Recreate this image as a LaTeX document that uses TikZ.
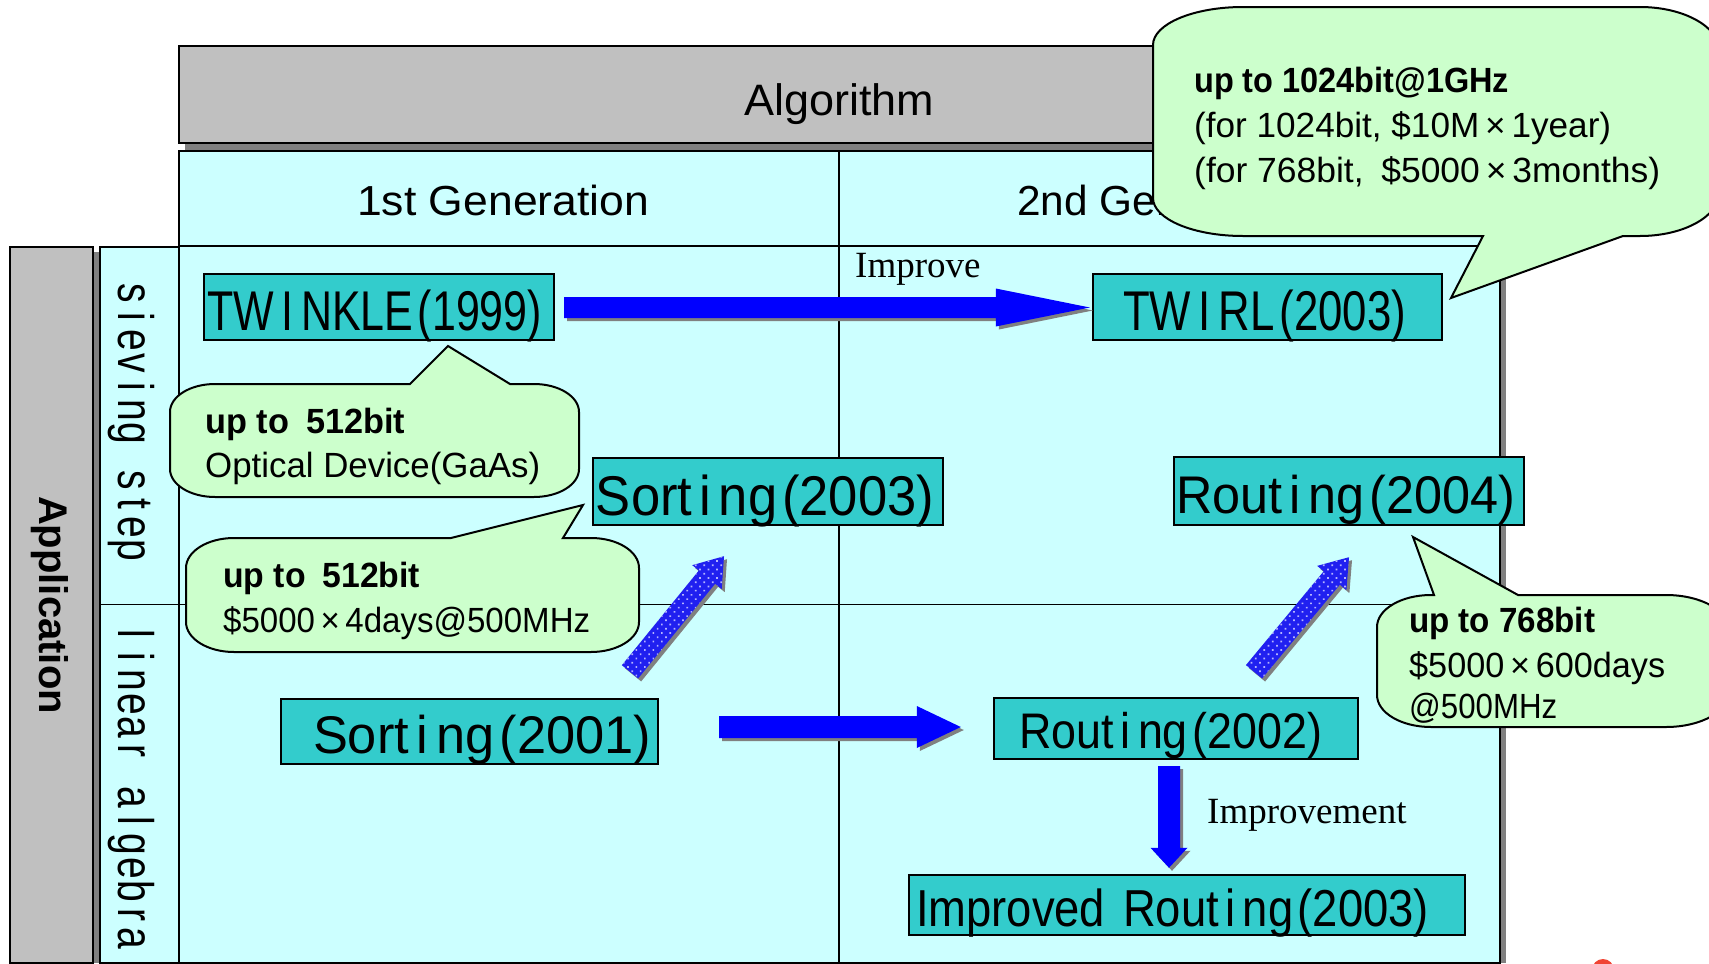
\documentclass[tikz,border=0pt]{standalone}
\usepackage{fontspec}
\usepackage{graphicx}
\setmainfont{Liberation Sans}
\newfontfamily\timesfont{Liberation Serif}
\usetikzlibrary{calc,patterns.meta,shadows}

\definecolor{hdrgray}{HTML}{C0C0C0}
\definecolor{shadegray}{HTML}{808080}
\definecolor{cellcyan}{HTML}{CCFFFF}
\definecolor{boxteal}{HTML}{33CCCC}
\definecolor{notegreen}{HTML}{CCFFCC}
\definecolor{dotblue}{HTML}{B4B4FF}
\definecolor{hatchblue}{HTML}{2020F0}
\definecolor{markred}{HTML}{F04535}

% text squeezed or stretched to a given width (in pt), natural height kept
\newcommand\fitw[2]{\resizebox{#1pt}{\height}{#2}}
\newcommand\fsz[1]{\fontsize{#1pt}{#1pt}\selectfont}
% fixed-pitch cell for the vertical row titles
\newcommand\pitchcell[1]{\makebox[23.4pt][c]{\scalebox{0.78}[1]{#1}}}
% block arrow: style, tail, tip, shaft half-width, head half-width, head length
\newcommand\blockarrow[6]{%
  \coordinate (ba-base) at ($(#3)!#6!(#2)$);
  \fill[#1] ($(#2)!#4!90:(#3)$) -- ($(ba-base)!#4!90:(#3)$) -- ($(ba-base)!#5!90:(#3)$)
    -- (#3) -- ($(ba-base)!#5!-90:(#3)$) -- ($(ba-base)!#4!-90:(#3)$)
    -- ($(#2)!#4!-90:(#3)$) -- cycle;}

\begin{document}
\begin{tikzpicture}[x=1pt, y=-1pt,
  txt/.style={inner sep=0pt, anchor=base west},
  tealbox/.style={draw=black, line width=2.4pt, fill=boxteal, inner sep=0pt, text depth=0pt},
  callout/.style={draw=black, line width=2pt, fill=notegreen},
  gridline/.style={line width=1.8pt},
  arrowshadow/.style={drop shadow={shadow xshift=3pt, shadow yshift=-3pt, fill=shadegray, opacity=1}},
  blockblue/.style={fill=blue, arrowshadow},
  blockhatch/.style={fill=hatchblue, arrowshadow,
    postaction={pattern={Dots[distance=6pt, radius=1.2pt, angle=45]}, pattern color=dotblue}},
]
\useasboundingbox (0,0) rectangle (1709,964);

% ---- column title bar
\fill[shadegray] (185,52) rectangle (1506,150);
\draw[line width=2pt, fill=hdrgray] (179,46) rectangle (1500,143);
\node[txt] (alg) at (744,115) {\fsz{44}\fitw{190}{Algorithm}};

% ---- table body
\fill[shadegray] (1500,157) rectangle (1505.5,963);
\draw[gridline, fill=cellcyan] (179,151) rectangle (1500,963);
\draw[gridline] (179,246) -- (1500,246);
\draw[gridline] (839,151) -- (839,963);

% ---- row title bars
\fill[shadegray] (93,252) rectangle (99,963);
\draw[gridline, fill=hdrgray] (10,247) rectangle (93,963);
\draw[gridline, fill=cellcyan] (100,247) rectangle (179,963);
\draw[gridline] (100,604.5) -- (1500,604.5);

\node[txt] (gen1) at (357,215) {\fsz{42}\fitw{292}{1st Generation}};
\node[txt] (gen2) at (1017,215) {\fsz{42}\fitw{292}{2nd Generation}};

\node[inner sep=0pt, rotate=-90, anchor=base] (app) at (39,605) {\fsz{40}\bfseries Application};
\node[inner sep=0pt, rotate=-90, anchor=base] (rowsieve) at (118,422)
  {\fsz{50}\pitchcell{s}\pitchcell{i}\pitchcell{e}\pitchcell{v}\pitchcell{i}\pitchcell{n}\pitchcell{g}%
   \pitchcell{}\pitchcell{s}\pitchcell{t}\pitchcell{e}\pitchcell{p}};
\node[inner sep=0pt, rotate=-90, anchor=base] (rowlin) at (118,786)
  {\fsz{50}\pitchcell{l}\pitchcell{i}\pitchcell{n}\pitchcell{e}\pitchcell{a}\pitchcell{r}\pitchcell{}%
   \pitchcell{a}\pitchcell{l}\pitchcell{g}\pitchcell{e}\pitchcell{b}\pitchcell{r}\pitchcell{a}};

% ---- devices
\node[tealbox, minimum width=350pt, minimum height=66pt, text height=46pt] (twinkle) at (379,307)
  {\fsz{56}\fitw{335}{TW\kern10pt I\kern10pt NKLE\kern6pt(1999)}\hspace*{9pt}};
\node[tealbox, minimum width=349pt, minimum height=66pt, text height=46pt] (twirl) at (1267.5,307)
  {\fsz{56}\fitw{283}{TW\kern10pt I\kern10pt RL\kern6pt(2003)}\hspace*{6pt}};
\node[tealbox, minimum width=350pt, minimum height=67pt, text height=47pt] (sort03) at (768,491.5)
  {\fsz{56}\fitw{338}{Sort\kern8pt i\kern8pt ng\kern5pt(2003)}\hspace*{6pt}};
\node[tealbox, minimum width=350pt, minimum height=68pt, text height=44pt] (rout04) at (1349,491)
  {\fsz{53}\fitw{339}{Rout\kern8pt i\kern8pt ng\kern5pt(2004)}\hspace*{7pt}};
\node[tealbox, minimum width=377pt, minimum height=65pt, text height=43pt] (sort01) at (469.5,731.5)
  {\fsz{53}\hspace*{25pt}\fitw{338}{Sort\kern8pt i\kern8pt ng\kern5pt(2001)}};
\node[tealbox, minimum width=364pt, minimum height=61pt, text height=39pt] (rout02) at (1176,728.5)
  {\fsz{50}\fitw{303}{Rout\kern8pt i\kern8pt ng\kern5pt(2002)}\hspace*{11pt}};
\node[tealbox, minimum width=556pt, minimum height=60pt, text height=42pt] (impr03) at (1187,905)
  {\fsz{52}\fitw{513}{Improved\kern6pt\ Rout\kern8pt i\kern8pt ng\kern5pt(2003)}\hspace*{29pt}};

% ---- connectors
\coordinate (a1s) at ($(twinkle.east)+(9,0.5)$);
\coordinate (a1e) at ($(twirl.west)+(-2,0.5)$);
\blockarrow{blockblue}{a1s}{a1e}{10.5pt}{19pt}{94pt}
\node[txt] (improve) at (855,277) {\timesfont\fsz{37}Improve};

\coordinate (a2s) at ($(sort01.east)+(60,-4.5)$);
\coordinate (a2e) at ($(rout02.west)+(-32,-1.5)$);
\blockarrow{blockblue}{a2s}{a2e}{11pt}{21pt}{44pt}

\coordinate (a3s) at ($(rout02.south)+(-7,6)$);
\coordinate (a3e) at ($(impr03.north)+(-18,-6)$);
\blockarrow{blockblue}{a3s}{a3e}{11pt}{18.5pt}{20pt}
\node[txt] (improvement) at (1207,823) {\timesfont\fsz{37}Improvement};

\coordinate (a4s) at ($(sort01.north)+(160.5,-26)$);
\coordinate (a4e) at ($(sort03.south)+(-44,30)$);
\blockarrow{blockhatch}{a4s}{a4e}{10.5pt}{19pt}{27pt}

\coordinate (a5s) at ($(rout02.north)+(78,-25)$);
\coordinate (a5e) at ($(rout04.south)+(0,31)$);
\blockarrow{blockhatch}{a5s}{a5e}{10.5pt}{19pt}{27pt}

% ---- callouts
\draw[callout] (215,384) -- (410,384) -- (448,346) -- (510,384) -- (534,384)
  .. controls (558.9,384) and (579,396.5) .. (579,412) -- (579,469)
  .. controls (579,484.5) and (558.9,497) .. (534,497) -- (215,497)
  .. controls (190.1,497) and (170,484.5) .. (170,469) -- (170,412)
  .. controls (170,396.5) and (190.1,384) .. (215,384) -- cycle;
\node[txt] (n1a) at (205,433) {\fsz{35}\bfseries\fitw{200}{up to\enspace 512bit}};
\node[txt] (n1b) at (205,477) {\fsz{35}\fitw{335}{Optical Device(GaAs)}};

\draw[callout] (234,538) -- (451,538) -- (583,505) -- (563,538) -- (591,538)
  .. controls (617.5,538) and (639,551.4) .. (639,568) -- (639,622)
  .. controls (639,638.6) and (617.5,652) .. (591,652) -- (234,652)
  .. controls (207.5,652) and (186,638.6) .. (186,622) -- (186,568)
  .. controls (186,551.4) and (207.5,538) .. (234,538) -- cycle;
\node[txt] (n2a) at (223,587) {\fsz{35}\bfseries\fitw{197}{up to\enspace 512bit}};
\node[txt] (n2b) at (223,632) {\fsz{35}\fitw{367}{\$5000\,×\,4days@500MHz}};

\draw[callout] (1243,7) -- (1640,7)
  .. controls (1684.2,7) and (1720,27.1) .. (1720,52) -- (1720,191)
  .. controls (1720,215.9) and (1684.2,236) .. (1640,236) -- (1623,236) -- (1451,298) -- (1483,236) -- (1243,236)
  .. controls (1193.3,236) and (1153,219) .. (1153,198) -- (1153,45)
  .. controls (1153,24) and (1193.3,7) .. (1243,7) -- cycle;
\node[txt] (n3a) at (1194,92) {\fsz{35}\bfseries\fitw{315}{up to 1024bit@1GHz}};
\node[txt] (n3b) at (1194,137) {\fsz{35}\fitw{417}{(for 1024bit, \$10M\,×\,1year)}};
\node[txt] (n3c) at (1194,182) {\fsz{35}\fitw{466}{(for 768bit,\enspace\$5000\,×\,3months)}};

\draw[callout] (1431,595) -- (1434,595) -- (1413,537) -- (1518,595) -- (1666,595)
  .. controls (1701.3,595) and (1730,611.1) .. (1730,631) -- (1730,691)
  .. controls (1730,710.9) and (1701.3,727) .. (1666,727) -- (1431,727)
  .. controls (1401.2,727) and (1377,712.7) .. (1377,695) -- (1377,627)
  .. controls (1377,609.3) and (1401.2,595) .. (1431,595) -- cycle;
\node[txt] (n4a) at (1409,632) {\fsz{35}\bfseries\fitw{186}{up to 768bit}};
\node[txt] (n4b) at (1409,677) {\fsz{35}\fitw{256}{\$5000\,×\,600days}};
\node[txt] (n4c) at (1409,718) {\fsz{35}\fitw{148}{@500MHz}};

% ---- mark at the lower edge
\fill[markred] (1603,970) circle[radius=11pt];
\end{tikzpicture}
\end{document}
